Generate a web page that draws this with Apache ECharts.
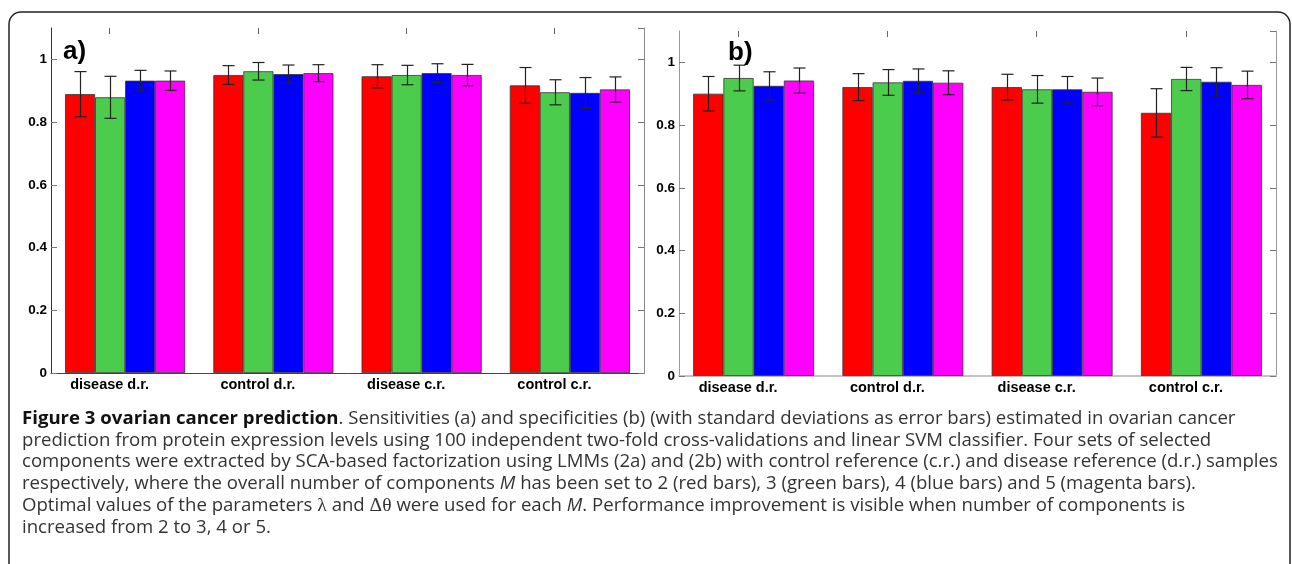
<!DOCTYPE html>
<html>
<head>
<meta charset="utf-8">
<script src="https://cdn.jsdelivr.net/npm/echarts@6/dist/echarts.min.js"></script>
<style>
html,body{margin:0;padding:0;background:#fff;}
#c{width:1292px;height:564px;}
</style>
</head>
<body>
<div id="c"></div>
<script>
// ---- data ----
const categories = ['disease d.r.', 'control d.r.', 'disease c.r.', 'control c.r.'];
const seriesNames = ['M=2', 'M=3', 'M=4', 'M=5'];
const yTicks = [0, 0.2, 0.4, 0.6, 0.8, 1];

// (a) sensitivities
const sensRed     = [0.889, 0.950, 0.946, 0.917];
const sensGreen   = [0.879, 0.962, 0.950, 0.895];
const sensBlue    = [0.932, 0.953, 0.956, 0.893];
const sensMagenta = [0.932, 0.956, 0.950, 0.904];
const sensRedSd     = [0.072, 0.030, 0.037, 0.057];
const sensGreenSd   = [0.067, 0.028, 0.031, 0.040];
const sensBlueSd    = [0.033, 0.029, 0.030, 0.049];
const sensMagentaSd = [0.031, 0.027, 0.034, 0.040];

// (b) specificities
const specRed     = [0.900, 0.921, 0.921, 0.839];
const specGreen   = [0.950, 0.936, 0.914, 0.947];
const specBlue    = [0.925, 0.941, 0.914, 0.938];
const specMagenta = [0.942, 0.935, 0.906, 0.928];
const specRedSd     = [0.055, 0.043, 0.041, 0.077];
const specGreenSd   = [0.041, 0.041, 0.044, 0.037];
const specBlueSd    = [0.045, 0.038, 0.041, 0.045];
const specMagentaSd = [0.040, 0.038, 0.044, 0.044];

const captionLines = [
  '{b|Figure 3 ovarian cancer prediction}. Sensitivities (a) and specificities (b) (with standard deviations as error bars) estimated in ovarian cancer',
  'prediction from protein expression levels using 100 independent two-fold cross-validations and linear SVM classifier. Four sets of selected',
  'components were extracted by SCA-based factorization using LMMs (2a) and (2b) with control reference (c.r.) and disease reference (d.r.) samples',
  'respectively, where the overall number of components {i|M} has been set to 2 (red bars), 3 (green bars), 4 (blue bars) and 5 (magenta bars).',
  'Optimal values of the parameters {g|\u03bb} and {g|\u0394\u03b8} were used for each {i|M}. Performance improvement is visible when number of components is',
  'increased from 2 to 3, 4 or 5.'
];

// ---- styling ----
const colors = ['#ff0000', '#4ccc4c', '#0000ff', '#ff00ff'];
const GAP = 0.19;
const LABEL_SHIFT = 15.5;
const AX_FONT = 'Liberation Sans';

const panels = [
  {means: [sensRed, sensGreen, sensBlue, sensMagenta], sds: [sensRedSd, sensGreenSd, sensBlueSd, sensMagentaSd],
   grid: {left: 51, top: 28, width: 593, height: 345}, tag: 'a)', tagX: 63, tagY: 61,
   edge: {left: '#333', top: '#444', right: '#888', bottom: '#aaa', topW: 1}},
  {means: [specRed, specGreen, specBlue, specMagenta], sds: [specRedSd, specGreenSd, specBlueSd, specMagentaSd],
   grid: {left: 679, top: 31, width: 597, height: 345}, tag: 'b)', tagX: 728, tagY: 61.5,
   edge: {left: '#999', top: '#c4c4c4', right: '#999', bottom: '#aaa', topW: 2}}
];

const grids = [], xAxes = [], yAxes = [], series = [], graphics = [];

panels.forEach((p, pi) => {
  const gMain = grids.length;
  grids.push(Object.assign({}, p.grid));
  const gLab = grids.length;
  grids.push(Object.assign({}, p.grid, {left: p.grid.left - LABEL_SHIFT}));

  const xb = xAxes.length;
  xAxes.push({type: 'category', data: categories, gridIndex: gMain, position: 'bottom',
    axisLine: {show: true, lineStyle: {color: p.edge.bottom, width: 1}}, axisTick: {show: false}, axisLabel: {show: false}});
  xAxes.push({type: 'category', data: categories, gridIndex: gMain, position: 'top',
    axisLine: {show: true, lineStyle: {color: p.edge.top, width: p.edge.topW}}, axisTick: {show: false}, axisLabel: {show: false}});
  xAxes.push({type: 'category', data: categories, gridIndex: gLab, position: 'bottom',
    axisLine: {show: false}, axisTick: {show: false},
    axisLabel: {show: true, color: '#000', fontFamily: AX_FONT, fontWeight: 'bold', fontSize: 14.5, margin: 4}});
  xAxes.push({type: 'category', data: categories, gridIndex: gLab, position: 'top',
    axisLine: {show: false}, axisLabel: {show: false},
    axisTick: {show: true, inside: true, length: 6, alignWithLabel: true, lineStyle: {color: '#666'}}});

  const yl = yAxes.length;
  yAxes.push({type: 'value', gridIndex: gMain, position: 'left', min: 0, max: 1.1, interval: 0.2,
    axisLine: {show: true, lineStyle: {color: p.edge.left, width: 1}},
    axisTick: {show: true, inside: true, length: 6, lineStyle: {color: '#777'}},
    axisLabel: {show: true, showMaxLabel: false, color: '#000', fontFamily: AX_FONT, fontWeight: 'bold', fontSize: 13.5, margin: 4,
      formatter: v => (yTicks.indexOf(Math.round(v * 10) / 10) >= 0 ? String(Math.round(v * 10) / 10) : '')},
    splitLine: {show: false}});
  yAxes.push({type: 'value', gridIndex: gMain, position: 'right', min: 0, max: 1.1, interval: 0.2,
    axisLine: {show: true, lineStyle: {color: p.edge.right, width: 1}},
    axisTick: {show: true, inside: true, length: 6, lineStyle: {color: '#777'}},
    axisLabel: {show: false}, splitLine: {show: false}});
  yAxes.push({type: 'value', gridIndex: gLab, min: 0, max: 1.1, show: false});

  p.means.forEach((m, si) => {
    series.push({
      type: 'bar', name: seriesNames[si], xAxisIndex: xb, yAxisIndex: yl, data: m,
      barGap: 0, barCategoryGap: (GAP * 100) + '%',
      itemStyle: {color: colors[si], borderColor: '#333', borderWidth: 0.8},
      emphasis: {disabled: true}, z: 2, animation: false
    });
  });

  const errData = [];
  p.means.forEach((m, si) => {
    m.forEach((v, ci) => {
      const sd = p.sds[si][ci];
      errData.push([ci, si, v - sd, v + sd]);
    });
  });
  series.push({
    type: 'custom', xAxisIndex: xb, yAxisIndex: yl, data: errData, z: 5, animation: false,
    encode: {x: 0, y: [2, 3]},
    renderItem: function (params, api) {
      const ci = api.value(0), si = api.value(1);
      const lo = api.coord([ci, api.value(2)]);
      const hi = api.coord([ci, api.value(3)]);
      const band = api.size([1, 0])[0];
      const gw = band * (1 - GAP);
      const bw = gw / 4;
      const x = Math.round(lo[0] - gw / 2 + bw * (si + 0.5)) + 0.5;
      const cap = 6;
      const st = {stroke: '#222', lineWidth: 1.2};
      return {type: 'group', children: [
        {type: 'line', shape: {x1: x, y1: lo[1], x2: x, y2: hi[1]}, style: st},
        {type: 'line', shape: {x1: x - cap, y1: lo[1], x2: x + cap, y2: lo[1]}, style: st},
        {type: 'line', shape: {x1: x - cap, y1: hi[1], x2: x + cap, y2: hi[1]}, style: st}
      ]};
    }
  });

  graphics.push({type: 'text', left: p.tagX, top: p.tagY - 22, z: 10,
    style: {text: p.tag, fill: '#000', font: 'bold 26px "Liberation Sans"'}});
});

// caption font fit
const CAP_FONT = '"Open Sans"';
const ctx = document.createElement('canvas').getContext('2d');
function fitSize(txt, target) {
  ctx.font = '16px ' + CAP_FONT;
  const w = ctx.measureText(txt).width;
  return 16 * target / w;
}
const capSize = Math.round(fitSize(captionLines[2], 1256) * 10) / 10;

captionLines.forEach((ln, i) => {
  graphics.push({type: 'text', left: 22, top: 421 + 21.8 * i - capSize * 0.65, z: 10,
    style: {text: ln, fill: '#333', fontFamily: 'Open Sans', fontSize: capSize,
      rich: {
        b: {fontWeight: 'bold', fill: '#111', fontFamily: 'Open Sans', fontSize: capSize},
        i: {fontStyle: 'italic', fill: '#333', fontFamily: 'Open Sans', fontSize: capSize},
        g: {fill: '#333', fontFamily: 'Liberation Serif', fontSize: capSize + 1}
      }}});
});

// outer frame
graphics.push({type: 'rect', z: 0, shape: {x: 9, y: 12, width: 1281, height: 620, r: 12},
  style: {fill: 'none', stroke: '#222', lineWidth: 1.5}});

const chart = echarts.init(document.getElementById('c'), null, {renderer: 'canvas'});
chart.setOption({
  animation: false,
  backgroundColor: '#fff',
  grid: grids,
  xAxis: xAxes,
  yAxis: yAxes,
  series: series,
  graphic: graphics,
  tooltip: {show: false}
});
</script>
</body>
</html>
